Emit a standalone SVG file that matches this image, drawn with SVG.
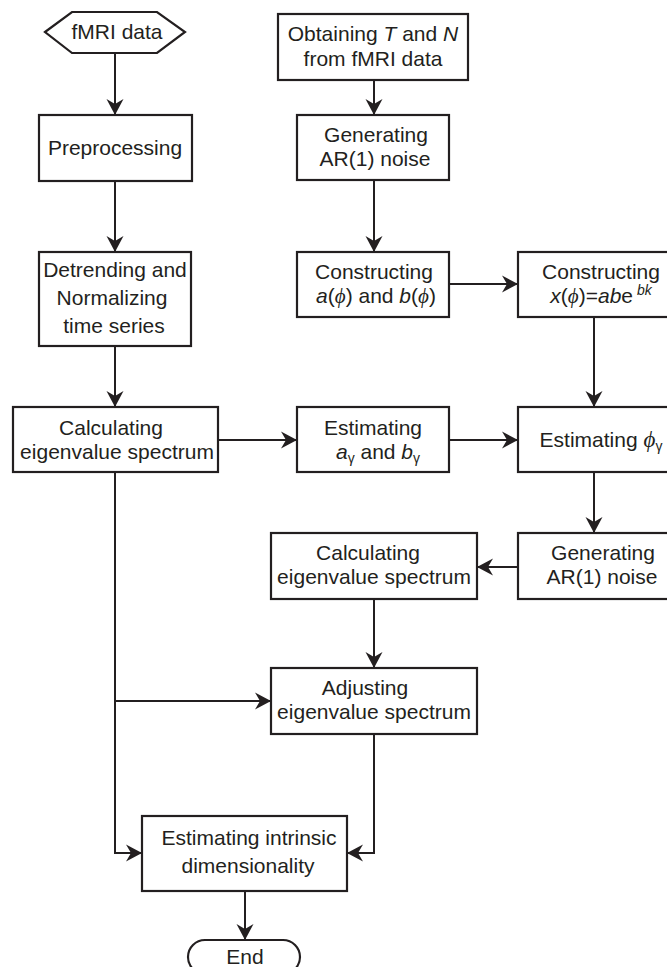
<svg xmlns="http://www.w3.org/2000/svg" width="667" height="967" viewBox="0 0 667 967">
<style>
.box{fill:#fff;stroke:#231f20;stroke-width:2.2}
.ln{fill:none;stroke:#231f20;stroke-width:2}
text{font-family:"Liberation Sans",Arial,sans-serif;font-size:21px;fill:#231f20;text-anchor:middle}
.it{font-style:italic}
.phi{font-family:"Liberation Serif","DejaVu Serif",serif;font-style:italic}
.sm{font-size:14px}
</style>
<defs>
<marker id="ah" markerUnits="userSpaceOnUse" markerWidth="20" markerHeight="20" viewBox="-18 -10 20 20" refX="0" refY="0" orient="auto">
<path d="M0,0 L-16,-8.5 L-11,0 L-16,8.5 Z" fill="#231f20"/>
</marker>
</defs>
<rect width="667" height="967" fill="#fff"/>
<g id="connectors">
<path class="ln" d="M115,53 V115" marker-end="url(#ah)"/>
<path class="ln" d="M115,181 V252" marker-end="url(#ah)"/>
<path class="ln" d="M115,346 V407" marker-end="url(#ah)"/>
<path class="ln" d="M374,80 V115" marker-end="url(#ah)"/>
<path class="ln" d="M374,180 V252" marker-end="url(#ah)"/>
<path class="ln" d="M449,284 H518" marker-end="url(#ah)"/>
<path class="ln" d="M594,317 V407" marker-end="url(#ah)"/>
<path class="ln" d="M218,440 H297" marker-end="url(#ah)"/>
<path class="ln" d="M449,440 H518" marker-end="url(#ah)"/>
<path class="ln" d="M594,472 V533" marker-end="url(#ah)"/>
<path class="ln" d="M518,567 H477" marker-end="url(#ah)"/>
<path class="ln" d="M374,599 V668" marker-end="url(#ah)"/>
<path class="ln" d="M115,472 V853 H142" marker-end="url(#ah)"/>
<path class="ln" d="M115,701 H271" marker-end="url(#ah)"/>
<path class="ln" d="M374,734 V853 H347" marker-end="url(#ah)"/>
<path class="ln" d="M245,891 V940" marker-end="url(#ah)"/>
</g>
<g id="fmri">
<polygon class="box" points="45,32 72,12 157,12 185,32 157,53 72,53"/>
<text x="117" y="39">fMRI data</text>
</g>
<g id="preprocessing">
<rect class="box" x="39" y="115" width="153" height="66"/>
<text x="115" y="155">Preprocessing</text>
</g>
<g id="detrending">
<rect class="box" x="39" y="252" width="152" height="94"/>
<text x="115" y="277">Detrending and</text>
<text x="112" y="305">Normalizing</text>
<text x="114" y="333">time series</text>
</g>
<g id="calc1">
<rect class="box" x="13" y="407" width="205" height="65"/>
<text x="111" y="435">Calculating</text>
<text x="117" y="459">eigenvalue spectrum</text>
</g>
<g id="obtaining">
<rect class="box" x="278" y="14" width="190" height="66"/>
<text x="373" y="41">Obtaining <tspan class="it">T</tspan> and <tspan class="it">N</tspan></text>
<text x="373" y="66">from fMRI data</text>
</g>
<g id="gen1">
<rect class="box" x="297" y="115" width="152" height="65"/>
<text x="376" y="142">Generating</text>
<text x="375" y="166">AR(1) noise</text>
</g>
<g id="constructA">
<rect class="box" x="297" y="252" width="152" height="65"/>
<text x="374" y="279">Constructing</text>
<text x="376" y="303"><tspan class="it">a</tspan>(<tspan class="phi">ϕ</tspan>) and <tspan class="it">b</tspan>(<tspan class="phi">ϕ</tspan>)</text>
</g>
<g id="constructX">
<rect class="box" x="518" y="252" width="170" height="65"/>
<text x="601" y="279">Constructing</text>
<text x="601" y="303"><tspan class="it">x</tspan>(<tspan class="phi">ϕ</tspan>)=<tspan class="it">ab</tspan>e<tspan class="it sm" dy="-8"> bk</tspan></text>
</g>
<g id="estAB">
<rect class="box" x="297" y="407" width="152" height="65"/>
<text x="373" y="435">Estimating</text>
<text x="378" y="459"><tspan class="it">a</tspan><tspan class="sm" dy="4">γ</tspan><tspan dy="-4"> and </tspan><tspan class="it">b</tspan><tspan class="sm" dy="4">γ</tspan></text>
</g>
<g id="estPhi">
<rect class="box" x="518" y="407" width="170" height="65"/>
<text x="601" y="447">Estimating <tspan class="phi" font-size="23">ϕ</tspan><tspan class="sm" dy="4">γ</tspan></text>
</g>
<g id="gen2">
<rect class="box" x="518" y="533" width="170" height="66"/>
<text x="603" y="560">Generating</text>
<text x="602" y="584">AR(1) noise</text>
</g>
<g id="calc2">
<rect class="box" x="271" y="533" width="206" height="66"/>
<text x="368" y="560">Calculating</text>
<text x="374" y="584">eigenvalue spectrum</text>
</g>
<g id="adjust">
<rect class="box" x="271" y="668" width="206" height="66"/>
<text x="365" y="695">Adjusting</text>
<text x="374" y="719">eigenvalue spectrum</text>
</g>
<g id="intrinsic">
<rect class="box" x="142" y="816" width="205" height="75"/>
<text x="249" y="845">Estimating intrinsic</text>
<text x="248" y="873">dimensionality</text>
</g>
<g id="end">
<rect class="box" x="188" y="940" width="112" height="34" rx="17"/>
<text x="245" y="964">End</text>
</g>
</svg>
